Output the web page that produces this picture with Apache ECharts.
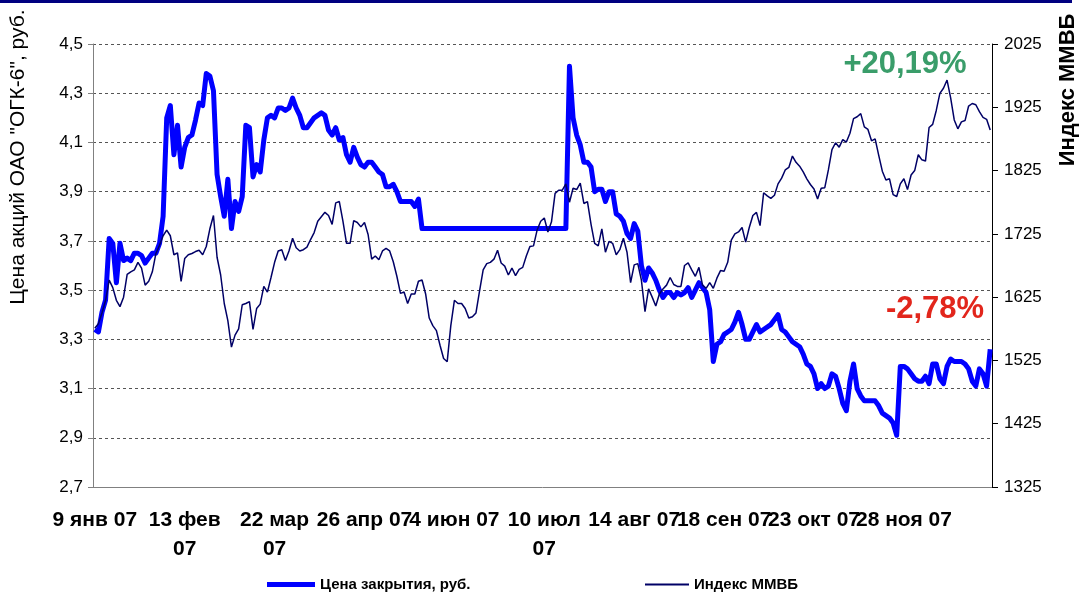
<!DOCTYPE html>
<html>
<head>
<meta charset="utf-8">
<title>ОГК-6 и индекс ММВБ</title>
<script src="https://cdn.jsdelivr.net/npm/echarts@6.0.0/dist/echarts.min.js"></script>
<style>
html, body { margin: 0; padding: 0; background: #fff; }
#chart { width: 1084px; height: 595px; }
</style>
</head>
<body>
<div id="chart"></div>
<script>
// подписи по оси X (каждые 25 торговых дней)
var tickLabels = ["9 янв 07", "13 фев\n07", "22 мар\n07", "26 апр 07", "4 июн 07",
    "10 июл\n07", "14 авг 07", "18 сен 07", "23 окт 07", "28 ноя 07"];

// цена закрытия, руб.
var prices = [
    3.34, 3.33, 3.41, 3.46, 3.71, 3.69, 3.53, 3.69, 3.62, 3.63,
    3.62, 3.65, 3.65, 3.64, 3.61, 3.63, 3.65, 3.65, 3.69, 3.80,
    4.20, 4.25, 4.05, 4.17, 4.00, 4.08, 4.12, 4.13, 4.19, 4.26,
    4.25, 4.38, 4.37, 4.31, 3.97, 3.88, 3.80, 3.95, 3.75, 3.86,
    3.82, 3.88, 4.17, 4.16, 3.96, 4.01, 3.98, 4.11, 4.20, 4.21,
    4.20, 4.24, 4.24, 4.23, 4.24, 4.28, 4.24, 4.21, 4.16, 4.16,
    4.18, 4.20, 4.21, 4.22, 4.21, 4.15, 4.13, 4.16, 4.11, 4.12,
    4.05, 4.02, 4.08, 4.04, 4.01, 4.00, 4.02, 4.02, 4.00, 3.98,
    3.97, 3.92, 3.92, 3.93, 3.90, 3.86, 3.86, 3.86, 3.86, 3.84,
    3.87, 3.75, 3.75, 3.75, 3.75, 3.75, 3.75, 3.75, 3.75, 3.75,
    3.75, 3.75, 3.75, 3.75, 3.75, 3.75, 3.75, 3.75, 3.75, 3.75,
    3.75, 3.75, 3.75, 3.75, 3.75, 3.75, 3.75, 3.75, 3.75, 3.75,
    3.75, 3.75, 3.75, 3.75, 3.75, 3.75, 3.75, 3.75, 3.75, 3.75,
    3.75, 3.75, 4.41, 4.20, 4.13, 4.09, 4.02, 4.02, 4.00, 3.90,
    3.91, 3.91, 3.86, 3.90, 3.90, 3.81, 3.80, 3.78, 3.73, 3.71,
    3.77, 3.74, 3.60, 3.54, 3.59, 3.57, 3.54, 3.50, 3.47, 3.49,
    3.49, 3.47, 3.49, 3.48, 3.49, 3.51, 3.47, 3.50, 3.53, 3.51,
    3.49, 3.42, 3.21, 3.28, 3.29, 3.32, 3.33, 3.34, 3.37, 3.41,
    3.36, 3.30, 3.30, 3.33, 3.36, 3.33, 3.34, 3.35, 3.36, 3.38,
    3.40, 3.34, 3.33, 3.31, 3.29, 3.28, 3.27, 3.24, 3.20, 3.19,
    3.16, 3.10, 3.12, 3.10, 3.11, 3.16, 3.15, 3.10, 3.04, 3.01,
    3.13, 3.20, 3.10, 3.07, 3.05, 3.05, 3.05, 3.05, 3.03, 3.00,
    2.99, 2.98, 2.96, 2.91, 3.19, 3.19, 3.18, 3.16, 3.14, 3.13,
    3.13, 3.15, 3.12, 3.20, 3.20, 3.14, 3.12, 3.19, 3.22, 3.21,
    3.21, 3.21, 3.20, 3.18, 3.13, 3.11, 3.18, 3.16, 3.11, 3.26
];

// индекс ММВБ
var micex = [
    1576, 1583, 1600, 1620, 1652, 1640, 1620, 1610, 1625, 1661,
    1665, 1668, 1680, 1671, 1644, 1650, 1665, 1694, 1707, 1722,
    1731, 1722, 1692, 1695, 1650, 1686, 1692, 1694, 1697, 1699,
    1692, 1705, 1733, 1754, 1688, 1660, 1615, 1588, 1546, 1565,
    1575, 1613, 1615, 1618, 1574, 1607, 1614, 1642, 1633, 1656,
    1680, 1698, 1700, 1683, 1698, 1718, 1703, 1698, 1700, 1704,
    1716, 1727, 1745, 1752, 1759, 1754, 1740, 1774, 1776, 1745,
    1710, 1710, 1746, 1743, 1736, 1743, 1724, 1685, 1690, 1684,
    1698, 1702, 1698, 1681, 1658, 1631, 1633, 1615, 1630, 1630,
    1650, 1652, 1630, 1592, 1580, 1572, 1549, 1528, 1523, 1580,
    1620, 1615, 1615, 1607, 1592, 1594, 1600, 1635, 1668, 1678,
    1680, 1685, 1699, 1679, 1674, 1660, 1671, 1659, 1669, 1672,
    1690, 1705, 1706, 1731, 1745, 1750, 1728, 1744, 1789, 1794,
    1794, 1804, 1775, 1797, 1795, 1805, 1773, 1776, 1740, 1710,
    1706, 1733, 1696, 1713, 1710, 1692, 1700, 1718, 1696, 1648,
    1676, 1678, 1652, 1602, 1638, 1625, 1611, 1630, 1638, 1644,
    1656, 1645, 1642, 1642, 1675, 1679, 1668, 1658, 1672, 1644,
    1639, 1648, 1639, 1655, 1667, 1666, 1680, 1715, 1725, 1728,
    1735, 1712, 1735, 1754, 1759, 1738, 1790, 1785, 1781, 1786,
    1804, 1813, 1826, 1830, 1848, 1838, 1832, 1823, 1812, 1803,
    1796, 1780, 1797, 1798, 1826, 1858, 1869, 1862, 1874, 1870,
    1884, 1907, 1910, 1915, 1894, 1890, 1872, 1875, 1849, 1824,
    1810, 1812, 1787, 1784, 1804, 1812, 1795, 1818, 1825, 1850,
    1842, 1840, 1893, 1898, 1920, 1947, 1955, 1968, 1940, 1905,
    1891, 1902, 1904, 1927, 1931, 1929, 1918, 1909, 1906, 1889
];

// категории: подпись на каждом 25-м дне, остальные пустые
var days = prices.map(function (v, i) {
    return i % 25 === 0 ? tickLabels[i / 25] : "";
});

var font = "Liberation Sans, Arial, sans-serif";

var chart = echarts.init(document.getElementById("chart"));
chart.setOption({
    animation: false,
    textStyle: { fontFamily: font },
    grid: { left: 93, right: 92, top: 44, bottom: 108 },
    legend: [
        {
            data: [{ name: "Цена закрытия, руб.", icon: "rect" }],
            left: 262, top: 572,
            itemWidth: 48, itemHeight: 5,
            textStyle: { fontSize: 15, fontWeight: "bold", color: "#000", fontFamily: font }
        },
        {
            data: [{ name: "Индекс ММВБ", icon: "rect" }],
            left: 640, top: 572,
            itemWidth: 44, itemHeight: 2,
            textStyle: { fontSize: 15, fontWeight: "bold", color: "#000", fontFamily: font }
        }
    ],
    xAxis: {
        type: "category",
        data: days,
        boundaryGap: true,
        axisLine: { lineStyle: { color: "#808080" } },
        axisTick: { interval: 0, length: 5, lineStyle: { color: "#808080" } },
        axisLabel: {
            interval: 0,
            hideOverlap: false,
            margin: 19,
            fontSize: 21,
            fontWeight: "bold",
            color: "#000",
            lineHeight: 29,
            fontFamily: font
        }
    },
    yAxis: [
        {
            type: "value",
            min: 2.7, max: 4.5, interval: 0.2,
            axisLine: { show: true, lineStyle: { color: "#808080" } },
            axisTick: { show: true, length: 5, lineStyle: { color: "#808080" } },
            axisLabel: {
                fontSize: 17, color: "#000", margin: 10, fontFamily: font,
                formatter: function (v) { return v.toFixed(1).replace(".", ","); }
            },
            splitLine: { lineStyle: { color: "#555", type: [3, 3] } }
        },
        {
            type: "value",
            min: 1325, max: 2025, interval: 100,
            position: "right",
            axisLine: { show: true, lineStyle: { color: "#000" } },
            axisTick: { show: true, length: 6, lineStyle: { color: "#000" } },
            axisLabel: {
                fontSize: 17, color: "#000", margin: 12, fontFamily: font,
                formatter: function (v) { return String(Math.round(v)); }
            },
            splitLine: { show: false }
        }
    ],
    series: [
        {
            name: "Цена закрытия, руб.",
            type: "line",
            data: prices,
            yAxisIndex: 0,
            symbol: "none",
            lineStyle: { color: "#0000ff", width: 5, join: "round" },
            itemStyle: { color: "#0000ff" }
        },
        {
            name: "Индекс ММВБ",
            type: "line",
            data: micex,
            yAxisIndex: 1,
            symbol: "none",
            lineStyle: { color: "#000066", width: 1.5 },
            itemStyle: { color: "#000066" }
        }
    ],
    graphic: [
        { type: "rect", left: 0, top: 0, shape: { width: 1072, height: 3 }, style: { fill: "#000080" } },
        {
            type: "text", x: 18, y: 157, rotation: Math.PI / 2,
            style: { text: "Цена акций ОАО \"ОГК-6\", руб.", font: "21px " + font, fill: "#000", align: "center", verticalAlign: "middle" }
        },
        {
            type: "text", x: 1068, y: 90, rotation: Math.PI / 2,
            style: { text: "Индекс ММВБ", font: "bold 22px " + font, fill: "#000", align: "center", verticalAlign: "middle" }
        },
        {
            type: "text", x: 905, y: 64,
            style: { text: "+20,19%", font: "bold 31px " + font, fill: "#3a9d6a", align: "center", verticalAlign: "middle" }
        },
        {
            type: "text", x: 935, y: 309,
            style: { text: "-2,78%", font: "bold 31px " + font, fill: "#e2261c", align: "center", verticalAlign: "middle" }
        }
    ]
});
</script>
</body>
</html>
